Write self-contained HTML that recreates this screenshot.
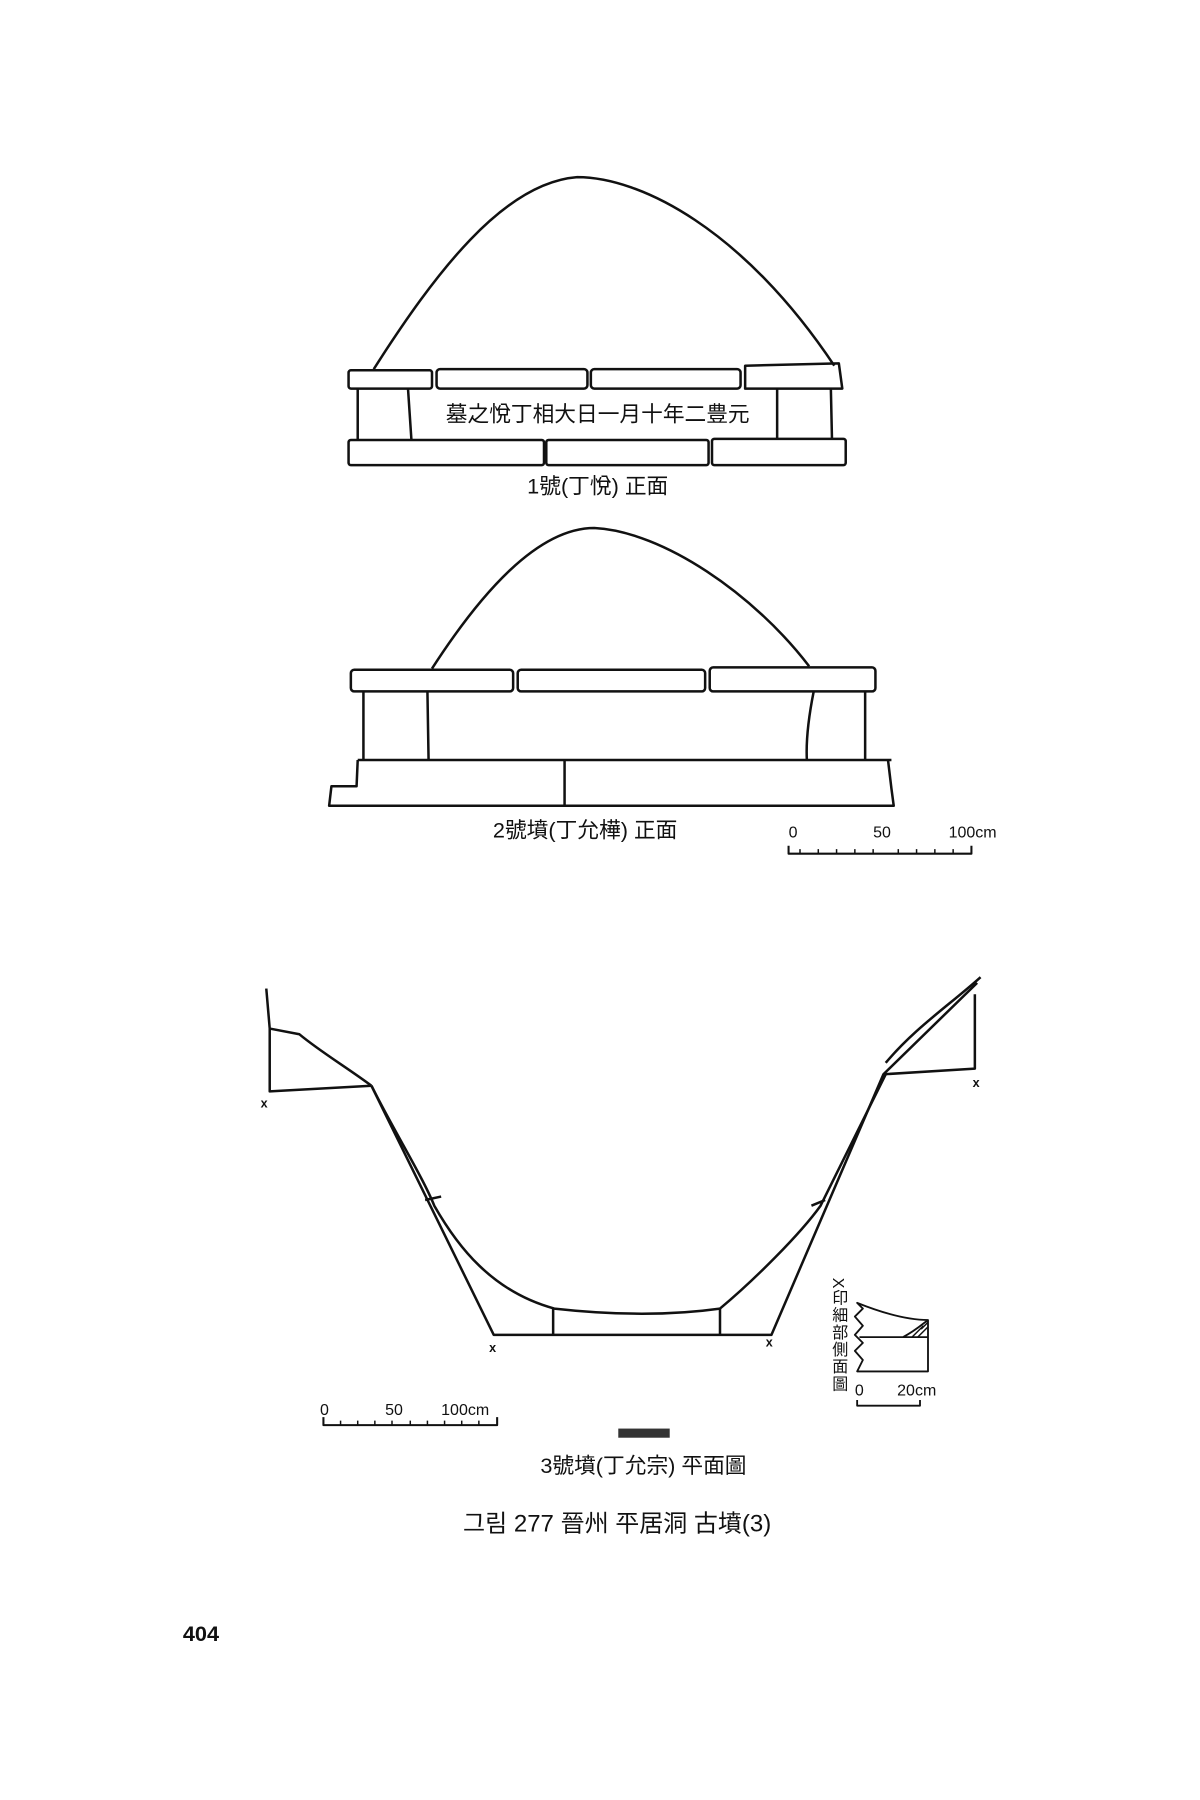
<!DOCTYPE html>
<html><head><meta charset="utf-8"><style>
body{margin:0;background:#fff}
svg{display:block}
text{font-family:"Liberation Sans","Noto Sans CJK KR",sans-serif;fill:#111}
</style></head><body>
<svg width="1200" height="1800" viewBox="0 0 1050 1575" xmlns="http://www.w3.org/2000/svg">
<rect width="1050" height="1575" fill="#fff"/>
<g fill="none" stroke="#111" stroke-width="2.2" stroke-linejoin="round">
<!-- Tomb 1 -->
<path d="M327,323 C380,240 440,160 505,155 C560,155 650,200 730,320"/>
<rect x="305" y="324" width="73" height="16" rx="2"/>
<rect x="382" y="323" width="132" height="17" rx="3"/>
<rect x="517" y="323" width="131" height="17" rx="3"/>
<path d="M652,320 L734,318 L737,340 L652,340 Z"/>
<path d="M313,340 L313,385 M357,340 L360,385 M680,340 L680,385 M727,340 L728,385"/>
<rect x="305" y="385" width="171" height="22" rx="2"/>
<rect x="478" y="385" width="142" height="22" rx="2"/>
<rect x="623" y="384" width="117" height="23" rx="2"/>
<!-- Tomb 2 -->
<path d="M378,585 C420,520 470,462 520,462 C580,465 660,520 708,583"/>
<rect x="307" y="586" width="142" height="19" rx="3"/>
<rect x="453" y="586" width="164" height="19" rx="3"/>
<rect x="621" y="584" width="145" height="21" rx="3"/>
<path d="M318,605 L318,665 M374,605 L375,665 M712,605 C708,625 705,645 706,665 M757,605 L757,665"/>
<path d="M313,665 L780,665"/>
<path d="M313,665 L312,688 L290,688 L288,705 L782,705 L780,690 L777,665"/>
<path d="M494,665 L494,705"/>
<!-- Plan 3 -->
<path d="M233,865 L236,900 L262,905 C280,920 305,935 325,950"/>
<path d="M236,900 L236,955 L325,950"/>
<path d="M325,950 L432,1168 L675,1168 L773,940 L855,860"/>
<path d="M325,950 C345,990 370,1030 380,1055 C400,1090 430,1130 485,1145 C530,1150 580,1152 630,1145 C660,1120 700,1080 718,1055 L775,940"/>
<path d="M484,1145 L484,1168 M630,1145 L630,1168 M372,1050 L386,1047 M710,1055 L722,1050"/>
<path d="M773,940 L853,935 L853,870 M775,930 C800,900 830,880 858,855"/>
<!-- scale bars -->
<path d="M690,740 L690,747 L850,747 L850,740" stroke-width="1.8"/>
<path d="M283,1240 L283,1247 L435,1247 L435,1240" stroke-width="1.8"/>
<!-- detail -->
<path d="M750,1140 C775,1150 795,1155 812,1155 L812,1200 L750,1200 L755,1190 L748,1182 L755,1175 L748,1168 L755,1160 L748,1152 L755,1145 Z M752,1170 L812,1170 M790,1170 C800,1165 808,1158 812,1155" stroke-width="1.6"/>
<path d="M750,1225 L750,1230 L805,1230 L805,1225" stroke-width="1.6"/>
</g>
<g stroke="#111" stroke-width="1.3">
<path d="M700,743 v4 M716,743 v4 M732,743 v4 M748,743 v4 M764,743 v4 M786,743 v4 M802,743 v4 M818,743 v4 M834,743 v4"/>
<path d="M298,1243 v4 M313,1243 v4 M328,1243 v4 M343,1243 v4 M359,1243 v4 M374,1243 v4 M389,1243 v4 M404,1243 v4 M419,1243 v4"/>
<path d="M798,1170 l10,-10 M803,1170 l9,-9 M806,1163 l6,-6"/>
</g>
<rect x="541" y="1250" width="45" height="8" fill="#333"/>
<g font-size="11" font-weight="bold">
<text x="228" y="969">x</text><text x="851" y="951">x</text><text x="428" y="1183">x</text><text x="670" y="1178">x</text>
</g>
<text x="523" y="369" font-size="19" text-anchor="middle">墓之悅丁相大日一月十年二豊元</text>
<text x="523" y="432" font-size="19" text-anchor="middle">1號(丁悅) 正面</text>
<text x="512" y="733" font-size="19" text-anchor="middle">2號墳(丁允樺) 正面</text>
<text x="690" y="733" font-size="14">0</text><text x="764" y="733" font-size="14">50</text><text x="830" y="733" font-size="14">100cm</text>
<text x="280" y="1238" font-size="14">0</text><text x="337" y="1238" font-size="14">50</text><text x="386" y="1238" font-size="14">100cm</text>
<text x="748" y="1221" font-size="14">0</text><text x="785" y="1221" font-size="14">20cm</text>
<text font-size="14" writing-mode="tb" x="733" y="1118" letter-spacing="1">X印細部側面圖</text>
<text x="563" y="1289" font-size="19" text-anchor="middle">3號墳(丁允宗) 平面圖</text>
<text x="540" y="1340" font-size="21" text-anchor="middle">그림 277  晉州 平居洞 古墳(3)</text>
<text x="160" y="1436" font-size="19" font-family="Liberation Serif" font-weight="bold">404</text>
</svg>
</body></html>
